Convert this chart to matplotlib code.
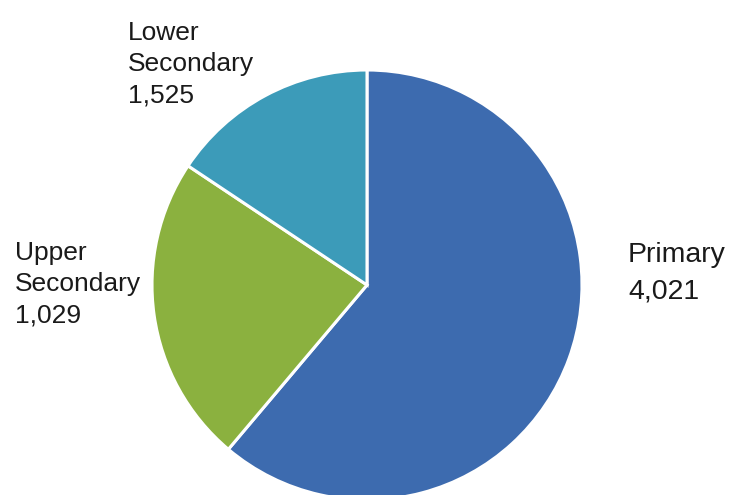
import matplotlib.pyplot as plt

# Data
categories = ["Primary", "Lower Secondary", "Upper Secondary"]
values = [4021, 1525, 1029]
colors = ["#3D6BAF", "#8BB13F", "#3C9BB9"]

# Label text (as shown on the chart)
label_lines = {
    "Primary": ["Primary", "4,021"],
    "Lower Secondary": ["Lower", "Secondary", "1,525"],
    "Upper Secondary": ["Upper", "Secondary", "1,029"],
}
# label placement: (x px, last-line baseline px, font size, line spacing)
label_pos = {
    "Primary": (628, 298, 20.5, 1.48),
    "Lower Secondary": (128, 102, 19, 1.37),
    "Upper Secondary": (15, 322, 19, 1.37),
}

W, H = 729, 495
fig = plt.figure(figsize=(W / 100, H / 100), dpi=100)
plt.rcParams['font.family'] = ['Liberation Sans', 'DejaVu Sans']

# Pie: center (367, 285) px, radius 215 px
cx, cy, r = 367, 285, 215
ax = fig.add_axes([(cx - r) / W, (H - cy - r) / H, 2 * r / W, 2 * r / H])
ax.pie(values, colors=colors, startangle=90, counterclock=False,
       wedgeprops=dict(edgecolor="white", linewidth=2.2))
ax.set_xlim(-1, 1)
ax.set_ylim(-1, 1)
ax.set_aspect('equal')
ax.axis('off')

for cat in categories:
    x, y, fs, ls = label_pos[cat]
    fig.text(x / W, 1 - y / H, "\n".join(label_lines[cat]),
             ha="left", va="baseline", fontsize=fs, color="#1a1a1a",
             linespacing=ls)

fig.savefig("out.png", dpi=100)
